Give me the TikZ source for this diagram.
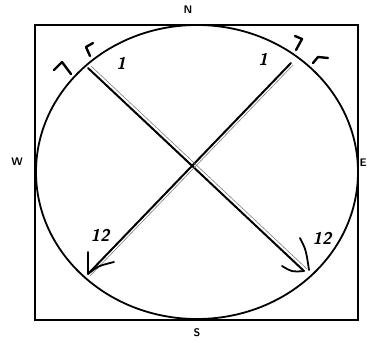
\documentclass[tikz,border=0pt]{standalone}
\usepackage{fontspec}
\usetikzlibrary{shapes.geometric}
\begin{document}
\begin{tikzpicture}[x=1pt,y=-1pt,
  dir/.style={font=\sffamily\bfseries\fontsize{11}{11}\selectfont, inner sep=0pt},
  hand/.style={font=\sffamily\bfseries\itshape\fontsize{17}{17}\selectfont, inner sep=0pt},
  frame/.style={line width=1.5pt},
  ring/.style={line width=1.8pt},
  ray/.style={line width=2pt, line cap=round},
  tip/.style={line width=1.8pt, line cap=round, line join=round},
  tick/.style={line width=2.4pt, line cap=round, line join=round}]
\useasboundingbox (0,0) rectangle (367,341);
% frame and circle
\node[draw, frame, minimum width=323pt, minimum height=295pt, inner sep=0pt] (box) at (196.5,172.5) {};
\node[draw, ring, ellipse, minimum width=322pt, minimum height=294pt, inner sep=0pt] (circ) at (197,172) {};
% compass letters
\node[dir] (N) at (188,10) {N};
\node[dir] (W) at (17,162) {W};
\node[dir] (S) at (197,333) {S};
\node[dir, anchor=east] (E) at (367,163) {E};
% rays
\coordinate (a1) at (88,68);
\coordinate (a2) at (304,271);
\coordinate (b1) at (291,63);
\coordinate (b2) at (88,274);
\draw[ray] (a1) -- (a2);
\draw[ray] (b1) -- (b2);
\draw[line width=0.6pt, gray] ([shift={(3,-2)}]a1) -- ([shift={(3,-2)}]a2);
\draw[line width=0.6pt, gray] ([shift={(2,2)}]b1) -- ([shift={(2,2)}]b2);
% arrow tips
\coordinate (bl1) at (88,252);
\coordinate (bl2) at (114,262);
\draw[tip] (bl1) -- (b2) .. controls (98,266) .. (bl2);
\coordinate (br1) at (300,238);
\coordinate (br2) at (282,266);
\draw[tip] (br1) .. controls (306,250) .. (309,270);
\draw[tip] (br2) .. controls (292,272) .. (a2);
% tick marks on the circle
\coordinate (t1) at (90,56);
\draw[tick] (t1) -- (86,47) -- (93,43);
\coordinate (t2) at (71,74);
\draw[tick] (54,70) -- (62,62) -- (t2);
\coordinate (t3) at (296,50);
\draw[tick] (295,36) -- (302,39) -- (t3);
\coordinate (t4) at (313,63);
\draw[tick] (t4) -- (318,57) -- (328,58);
% labels
\node[hand] (l1) at (121,63) {1};
\node[hand] (r1) at (263,59) {1};
\node[hand] (l12) at (100,235) {12};
\node[hand] (r12) at (322,238) {12};
\end{tikzpicture}
\end{document}
